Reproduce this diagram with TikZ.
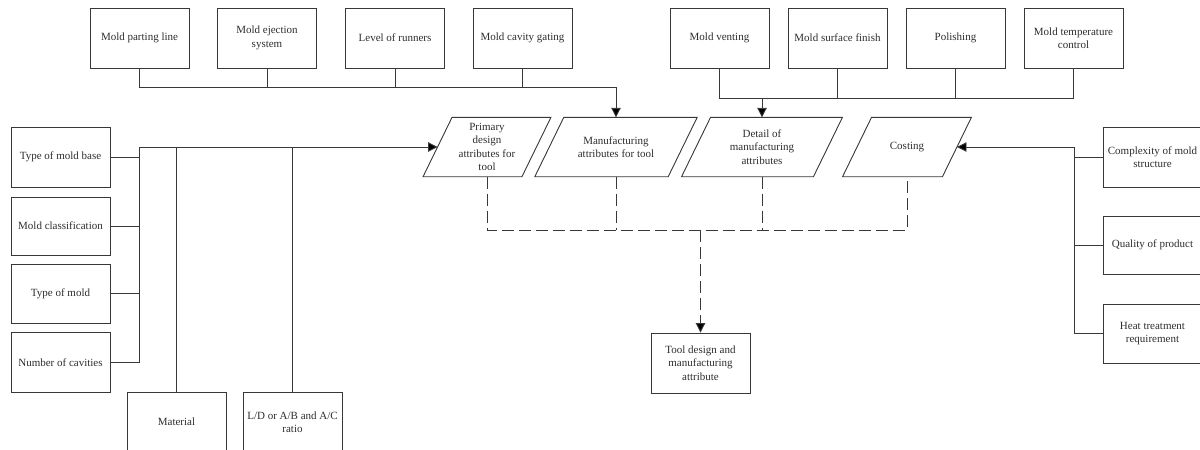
\documentclass[tikz,border=0pt]{standalone}
\usepackage{fontspec}
\setmainfont{Liberation Serif}
\usetikzlibrary{arrows.meta,calc}
\definecolor{ink}{HTML}{383838}
\definecolor{txt}{HTML}{2E2E2E}

% outline of a slanted (parallelogram) box around a named node
\newcommand{\slantbox}[1]{%
  \draw[edge] ($(#1.north west)+(14.5,0)$) -- ($(#1.north east)+(14.5,0)$)
    -- ($(#1.south east)+(-14.5,0)$) -- ($(#1.south west)+(-14.5,0)$) -- cycle;}

\begin{document}
\begin{tikzpicture}[x=1pt,y=-1pt,
  edge/.style={draw=ink, line width=0.9pt},
  box/.style={draw=ink, line width=0.9pt, minimum width=99pt, minimum height=60pt,
    inner sep=0pt, align=center, text=txt, font=\fontsize{11}{13.4}\selectfont},
  para/.style={minimum height=59pt, inner sep=0pt, align=center, text=txt,
    font=\fontsize{11}{13.4}\selectfont},
  arr/.style={edge, -{Triangle[length=9.5pt,width=9.5pt,fill=black]}},
  dsh/.style={edge, dash pattern=on 12pt off 5pt},
  darr/.style={dsh, -{Triangle[length=9.5pt,width=9.5pt,fill=black]}}]

\fill[white] (0,0) rectangle (1200,450);
\clip (0,0) rectangle (1200,450);

% top row of attribute boxes
\node[box] (t1) at (139.5,38) {Mold parting line};
\node[box] (t2) at (267,38) {Mold ejection\\system};
\node[box] (t3) at (395,38) {Level of runners};
\node[box] (t4) at (522.5,38) {Mold cavity gating};
\node[box] (t5) at (719.5,38) {Mold venting};
\node[box] (t6) at (837.5,38) {Mold surface finish};
\node[box] (t7) at (955.5,38) {Polishing};
\node[box] (t8) at (1073.5,38) {Mold temperature\\control};

% left column
\node[box] (l1) at (60.5,157) {Type of mold base};
\node[box, minimum height=58pt] (l2) at (60.5,226) {Mold classification};
\node[box, minimum height=59pt] (l3) at (60.5,293.5) {Type of mold};
\node[box] (l4) at (60.5,362.5) {Number of cavities};

% bottom-left boxes
\node[box] (mat) at (176.5,422) {Material};
\node[box] (ld) at (292.5,422) {L/D or A/B and A/C\\ratio};

% right column
\node[box] (r1) at (1152.5,157) {Complexity of mold\\structure};
\node[box, minimum height=58pt] (r2) at (1152.5,245) {Quality of product};
\node[box, minimum height=59pt] (r3) at (1152.5,333.5) {Heat treatment\\requirement};

% central slanted boxes
\node[para, minimum width=98.5pt] (p1) at (487,147) {Primary\\design\\attributes for\\tool};
\node[para, minimum width=133pt] (p2) at (616,147) {Manufacturing\\attributes for tool};
\node[para, minimum width=131.5pt] (p3) at (762,147) {Detail of\\manufacturing\\attributes};
\node[para, minimum width=99.5pt] (p4) at (907,147) {Costing};
\slantbox{p1}\slantbox{p2}\slantbox{p3}\slantbox{p4}

% result box
\node[box] (fin) at (700.5,363) {Tool design and\\manufacturing\\attribute};

% junction levels
\coordinate (jT) at (0,87);
\coordinate (jR) at (0,98);
\coordinate (jL) at (139,147);
\coordinate (jE) at (1074,147);
\coordinate (jD) at (0,230);

% top-left group into manufacturing attributes
\draw[arr] (t1.south) |- (p2.north |- jT) -- (p2.north);
\foreach \n in {t2,t3,t4} \draw[edge] (\n.south) -- (\n.south |- jT);

% top-right group into detail of manufacturing
\draw[edge] (t5.south) |- (t8.south |- jR) -- (t8.south);
\foreach \n in {t6,t7} \draw[edge] (\n.south) -- (\n.south |- jR);
\draw[arr] (p3.north |- jR) -- (p3.north);

% left group into primary design attributes
\draw[arr] (l4.east) -| (jL) -- (p1.west);
\foreach \n in {l1,l2,l3} \draw[edge] (\n.east) -- (\n.east -| jL);
\draw[edge] (mat.north) -- (mat.north |- jL);
\draw[edge] (ld.north) -- (ld.north |- jL);

% right group into costing
\draw[arr] (r3.west) -| (jE) -- (p4.east);
\foreach \n in {r1,r2} \draw[edge] (\n.west) -- (\n.west -| jE);

% dashed collector into the result
\draw[dsh] (p1.south) |- (p4.south |- jD) -- (p4.south);
\foreach \n in {p2,p3} \draw[dsh] (\n.south) -- (\n.south |- jD);
\draw[darr] (fin.north |- jD) -- (fin.north);
\end{tikzpicture}
\end{document}
